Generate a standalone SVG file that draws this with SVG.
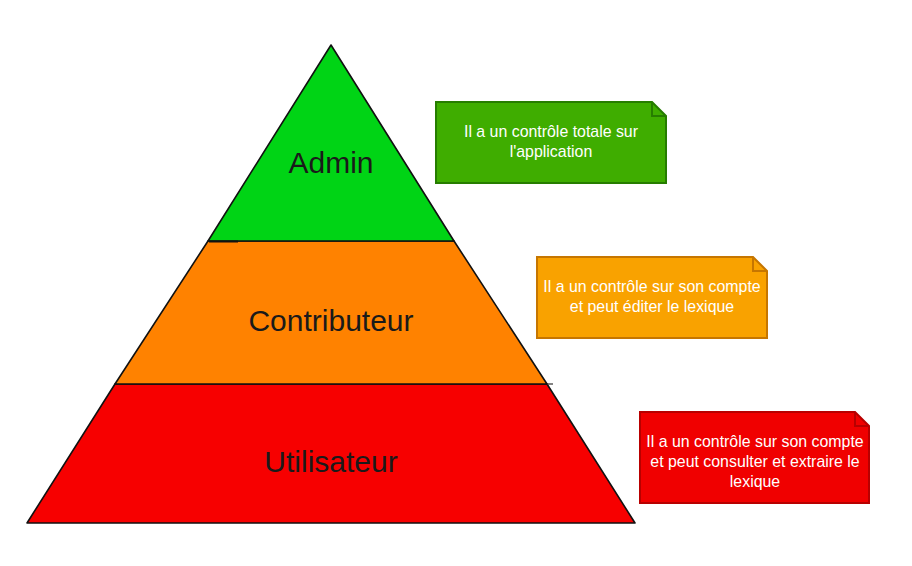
<svg xmlns="http://www.w3.org/2000/svg" width="912" height="566" viewBox="0 0 912 566">
<style>
.lvl{stroke:#111;stroke-width:1.6;stroke-linejoin:round}
.lbl{font-family:"Liberation Sans",Arial,sans-serif;font-size:30px;fill:#1a1a1a;text-anchor:middle}
.note-t{font-family:"Liberation Sans",Arial,sans-serif;font-size:15.9px;fill:#fff;text-anchor:middle}
.note{stroke-width:2}
</style>
<rect width="912" height="566" fill="#fff"/>
<g id="level-utilisateur">
<polygon class="lvl" points="115,384 547,384 635,523 27,523" fill="#f70000"/>
<text class="lbl" x="331" y="472">Utilisateur</text>
</g>
<g id="level-contributeur">
<polygon class="lvl" points="208,241 454,241 547,384 115,384" fill="#ff8200"/>
<line x1="547" y1="384" x2="553" y2="384" stroke="#333" stroke-width="1.2"/>
<text class="lbl" x="331" y="331">Contributeur</text>
</g>
<g id="level-admin">
<polygon class="lvl" points="331,45 454,241 208,241" fill="#00d415"/>
<line x1="209" y1="241.5" x2="238" y2="241.5" stroke="#111" stroke-width="2"/>
<text class="lbl" x="331" y="173">Admin</text>
</g>
<g id="note-admin">
<path class="note" d="M436,102 H652 L666,116 V183 H436 Z" fill="#3fad00" stroke="#267d00"/>
<path d="M652,102 V116 H666" fill="none" stroke="#267d00" stroke-width="2"/>
<text class="note-t" x="551" y="137">Il a un contrôle totale sur</text>
<text class="note-t" x="551" y="157">l'application</text>
</g>
<g id="note-contributeur">
<path class="note" d="M537,257 H753 L767,271 V338 H537 Z" fill="#f9a200" stroke="#c67600"/>
<path d="M753,257 V271 H767" fill="none" stroke="#c67600" stroke-width="2"/>
<text class="note-t" x="652" y="292">Il a un contrôle sur son compte</text>
<text class="note-t" x="652" y="312">et peut éditer le lexique</text>
</g>
<g id="note-utilisateur">
<path class="note" d="M640,412 H855 L869,426 V503 H640 Z" fill="#f00000" stroke="#b80000"/>
<path d="M855,412 V426 H869" fill="none" stroke="#b80000" stroke-width="2"/>
<text class="note-t" x="755" y="447">Il a un contrôle sur son compte</text>
<text class="note-t" x="755" y="467">et peut consulter et extraire le</text>
<text class="note-t" x="755" y="487">lexique</text>
</g>
<g id="connectors"></g>
</svg>
